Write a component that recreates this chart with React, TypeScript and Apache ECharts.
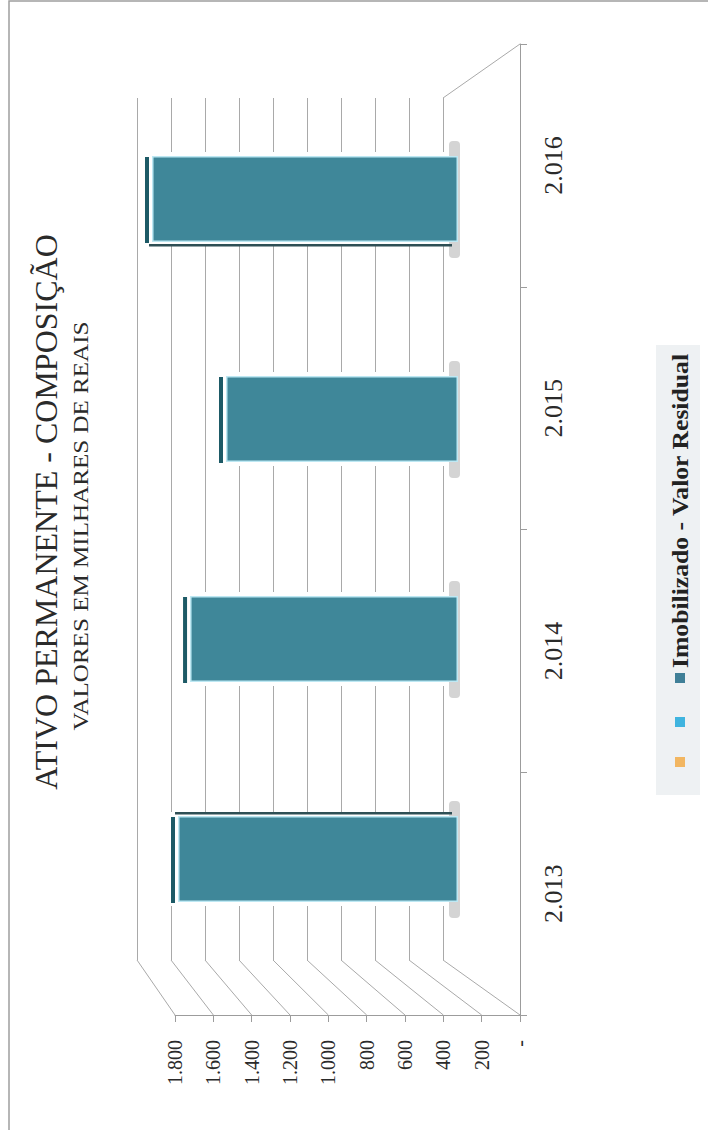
import React, { useEffect, useRef } from "react";
import * as echarts from "echarts";

const categories = ["2.013", "2.014", "2.015", "2.016"];
const residualValues = [1605, 1536, 1330, 1754];
const seriesName = "Imobilizado - Valor Residual";
const tickLabels = ["-", "200", "400", "600", "800", "1.000", "1.200", "1.400", "1.600", "1.800"];
const tickValues = [0, 200, 400, 600, 800, 1000, 1200, 1400, 1600, 1800];
const titleText = "ATIVO PERMANENTE - COMPOSIÇÃO";
const subtitleText = "VALORES EM MILHARES DE REAIS";
const legendColors = ["#f2b661", "#3fb4df", "#3f7f97"];

const SERIF = "'Liberation Serif', 'DejaVu Serif', serif";
const GRID_COLOR = "#a9a9a9";
const AXIS_COLOR = "#9c9c9c";
const TEAL = "#3f8799";
const TEAL_DARK = "#1d5a66";
const EDGE = "#bde8f3";

const front = { left: 175, right: 520, top: 44, bottom: 1015 };
const back = { left: 137, right: 443, top: 98, bottom: 960 };
const plane = { left: 144, right: 458, top: 89, bottom: 969 };

const gridOf = (b: typeof front) => ({
  left: b.left,
  top: b.top,
  width: b.right - b.left,
  height: b.bottom - b.top,
});

// Floor lines joining the back wall to the front axis
const xAt = (b: typeof front, v: number) => b.right - ((b.right - b.left) * v) / 1800;
const perspectiveLines = [
  ...tickValues.map((v) => [xAt(back, v), back.bottom, xAt(front, v), front.bottom]),
  [back.right, back.top, front.right, front.top],
];

function renderDepth(params: any, api: any) {
  const v = api.value(0);
  const idx = api.value(1);
  const [x0, yc] = api.coord([0, idx]);
  const [x1] = api.coord([v, idx]);
  const h = 86;
  const yTop = yc - h / 2;
  const yBot = yc + h / 2;
  const children: any[] = [];
  // grey base stubs
  children.push({
    type: "rect",
    shape: { x: x0 - 9, y: yTop - 15, width: 11, height: h + 31, r: 4 },
    style: { fill: "#d4d4d4" },
  });
  // white halo that cuts the gridlines around the bar
  children.push({
    type: "rect",
    shape: { x: x1 - 10, y: yTop - 4, width: x0 - x1 - 2, height: h + 8 },
    style: { fill: "#ffffff" },
  });
  // side face
  children.push({
    type: "rect",
    shape: { x: x1 - 7, y: yTop + 1, width: 4, height: h },
    style: { fill: TEAL_DARK },
  });
  // top face on the lowest bar, bottom face on the highest one
  if (idx === 0) {
    children.push({
      type: "rect",
      shape: { x: x1 - 3, y: yTop - 4, width: x0 - x1 - 3, height: 2.5 },
      style: { fill: "#2e4f55" },
    });
  }
  if (idx === categories.length - 1) {
    children.push({
      type: "rect",
      shape: { x: x1 - 3, y: yBot + 2, width: x0 - x1 - 3, height: 2.5 },
      style: { fill: "#2e4f55" },
    });
  }
  return { type: "group", children };
}

export default function App() {
  const ref = useRef<HTMLDivElement>(null);
  useEffect(() => {
    const chart = echarts.init(ref.current!, undefined, { renderer: "svg" });
    const hiddenCat = { type: "category", data: categories, show: false };
    const lineGraphics = perspectiveLines.map((p) => ({
      type: "line",
      z: 0,
      shape: { x1: p[0], y1: p[1], x2: p[2], y2: p[3] },
      style: { stroke: GRID_COLOR, lineWidth: 1 },
    }));
    const legendX = 680;
    chart.setOption({
      animation: false,
      backgroundColor: "#ffffff",
      grid: [gridOf(front), gridOf(back), gridOf(plane)],
      xAxis: [
        {
          gridIndex: 0,
          type: "value",
          inverse: true,
          min: 0,
          max: 1800,
          interval: 200,
          splitLine: { show: false },
          axisLine: { show: true, lineStyle: { color: AXIS_COLOR } },
          axisTick: { show: true, length: 7, lineStyle: { color: AXIS_COLOR } },
          axisLabel: {
            rotate: 90,
            margin: 25,
            fontFamily: SERIF,
            fontSize: 20,
            color: "#2a2a2a",
            formatter: (v: number) => tickLabels[tickValues.indexOf(v)],
          },
        },
        {
          gridIndex: 1,
          type: "value",
          inverse: true,
          min: 0,
          max: 1800,
          interval: 200,
          axisLine: { show: false },
          axisTick: { show: false },
          axisLabel: { show: false },
          splitLine: { show: true, lineStyle: { color: GRID_COLOR, width: 1 } },
        },
        { gridIndex: 2, type: "value", inverse: true, min: 0, max: 1800, interval: 200, show: false, splitLine: { show: false } },
      ],
      yAxis: [
        {
          gridIndex: 0,
          type: "category",
          data: categories,
          position: "right",
          axisLine: { show: true, lineStyle: { color: AXIS_COLOR } },
          axisTick: { show: true, length: 7, lineStyle: { color: AXIS_COLOR } },
          axisLabel: {
            rotate: 90,
            margin: 20,
            fontFamily: SERIF,
            fontSize: 26,
            color: "#2a2a2a",
          },
          splitLine: { show: false },
        },
        { ...hiddenCat, gridIndex: 1 },
        { ...hiddenCat, gridIndex: 2 },
      ],
      series: [
        {
          type: "custom",
          xAxisIndex: 2,
          yAxisIndex: 2,
          z: 2,
          silent: true,
          renderItem: renderDepth,
          encode: { x: 0, y: 1 },
          data: residualValues.map((v, i) => [v, categories[i]]),
        },
        {
          type: "bar",
          name: seriesName,
          xAxisIndex: 2,
          yAxisIndex: 2,
          z: 3,
          barWidth: 86,
          itemStyle: { color: TEAL, borderColor: EDGE, borderWidth: 1.5 },
          data: residualValues,
        },
      ],
      graphic: [
        {
          type: "polyline",
          z: 0,
          shape: { points: [[708, 1], [9, 1], [9, 1130]] },
          style: { stroke: "#9f9f9f", lineWidth: 1.5, fill: "none" },
        },
        ...lineGraphics,
        {
          type: "text",
          x: 46,
          y: 512,
          rotation: Math.PI / 2,
          style: {
            text: titleText,
            fontFamily: SERIF,
            fontSize: 32,
            fill: "#2a2a2a",
            align: "center",
            verticalAlign: "middle",
          },
        },
        {
          type: "text",
          x: 81,
          y: 526,
          rotation: Math.PI / 2,
          scaleX: 1.14,
          style: {
            text: subtitleText,
            fontFamily: SERIF,
            fontSize: 22,
            fill: "#2a2a2a",
            align: "center",
            verticalAlign: "middle",
          },
        },
        {
          type: "rect",
          z: 0,
          shape: { x: 656, y: 345, width: 44, height: 450 },
          style: { fill: "#eef1f3" },
        },
        ...[762, 722, 678].map((y, i) => ({
          type: "rect",
          z: 1,
          shape: { x: legendX - 5, y: y - 5, width: 10, height: 10 },
          style: { fill: legendColors[i] },
        })),
        {
          type: "text",
          z: 1,
          x: legendX,
          y: 511,
          rotation: Math.PI / 2,
          scaleX: 1.07,
          style: {
            text: seriesName,
            fontFamily: SERIF,
            fontSize: 24,
            fontWeight: "bold",
            fill: "#222222",
            align: "center",
            verticalAlign: "middle",
          },
        },
      ],
    });
    return () => chart.dispose();
  }, []);
  return (
    <div
      ref={ref}
      style={{ position: "fixed", left: 0, top: 0, width: 708, height: 1136 }}
    />
  );
}
